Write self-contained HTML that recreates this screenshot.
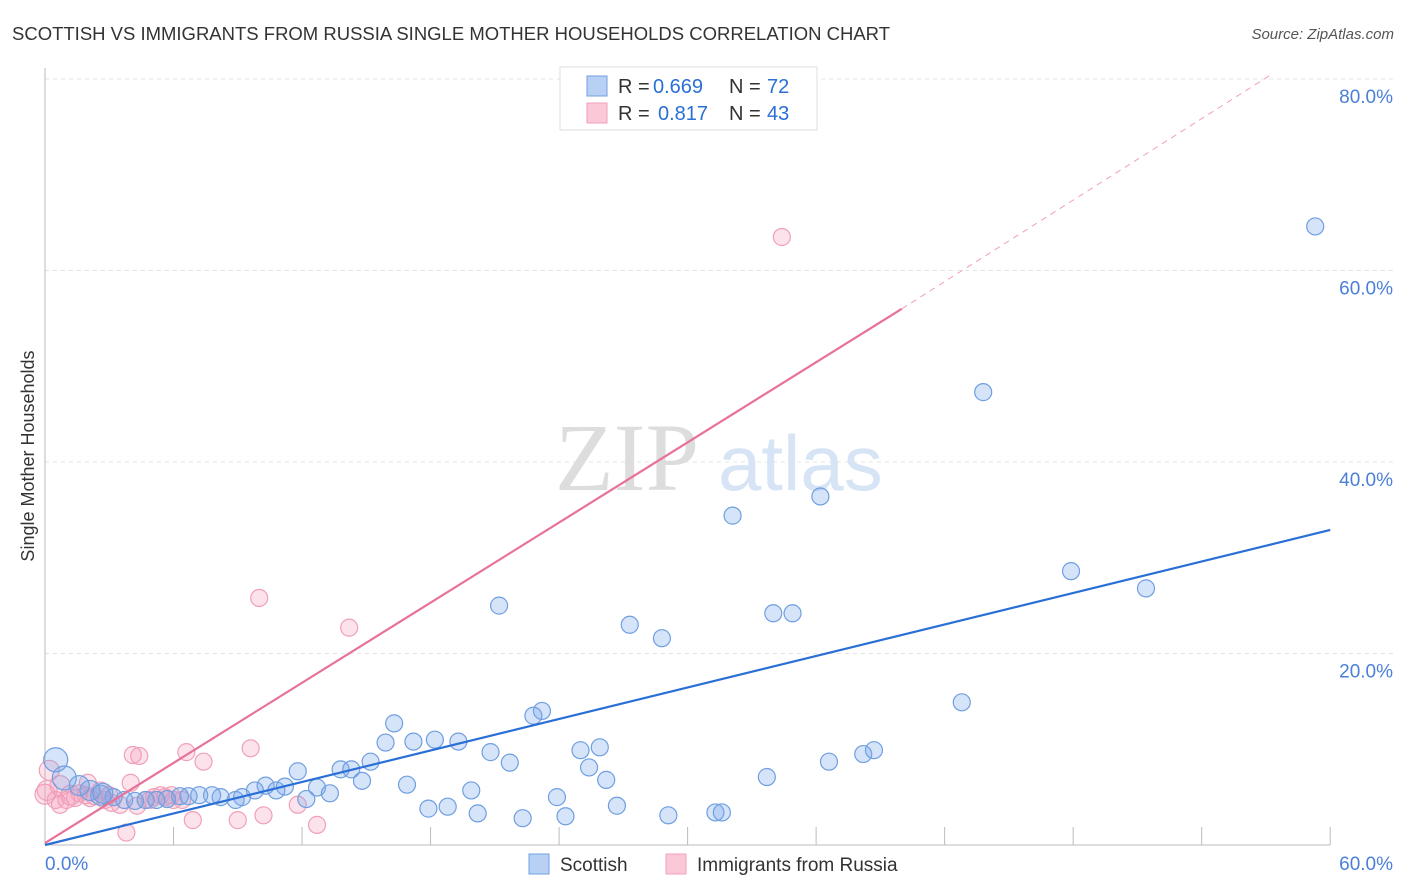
<!DOCTYPE html>
<html><head><meta charset="utf-8"><style>
body{margin:0;background:#fff;font-family:"Liberation Sans",sans-serif}
svg{display:block}
</style></head><body>
<svg id="chart" width="1406" height="892">
<text x="12" y="40" font-size="18" fill="#333" textLength="878" lengthAdjust="spacingAndGlyphs">SCOTTISH VS IMMIGRANTS FROM RUSSIA SINGLE MOTHER HOUSEHOLDS CORRELATION CHART</text>
<text x="1394" y="39" font-size="15" fill="#555" font-style="italic" text-anchor="end">Source: ZipAtlas.com</text>
<text transform="translate(34,456) rotate(-90)" font-size="18" fill="#333" text-anchor="middle">Single Mother Households</text>
<g id="grid"></g>
<text x="555" y="490" font-size="96" fill="#ddd" font-family="Liberation Serif,serif">ZIP</text>
<text x="718" y="490" font-size="78" fill="#d6e4f5">atlas</text>
<g id="marks"></g>
<g>
<rect x="560" y="67" width="257" height="63" fill="#fff" stroke="#ddd"/>
<rect x="587" y="76" width="20" height="20" fill="#b8d0f4" stroke="#6f9fe0"/>
<rect x="587" y="103" width="20" height="20" fill="#fbc8d8" stroke="#f0a0b8"/>
<text x="618" y="93" font-size="20" fill="#333">R =</text>
<text x="653" y="93" font-size="20" fill="#2a6fd6">0.669</text>
<text x="729" y="93" font-size="20" fill="#333">N =</text>
<text x="767" y="93" font-size="20" fill="#2a6fd6">72</text>
<text x="618" y="120" font-size="20" fill="#333">R =</text>
<text x="658" y="120" font-size="20" fill="#2a6fd6">0.817</text>
<text x="729" y="120" font-size="20" fill="#333">N =</text>
<text x="767" y="120" font-size="20" fill="#2a6fd6">43</text>
</g>
<g>
<rect x="529" y="854" width="20" height="20" fill="#b8d0f4" stroke="#6f9fe0"/>
<text x="560" y="871" font-size="19" fill="#333">Scottish</text>
<rect x="666" y="854" width="20" height="20" fill="#fbc8d8" stroke="#f0a0b8"/>
<text x="697" y="871" font-size="19" fill="#333">Immigrants from Russia</text>
</g>
</svg>
<script>
const yTicks=[20,40,60,80];
const yTickLabels=["20.0%","40.0%","60.0%","80.0%"];
const xTickLabels=["0.0%","60.0%"];
const blueX=[59.3,43.8,32.1,36.2,47.9,51.4,21.2,27.3,28.8,34.0,34.9,42.8,23.2,22.8,16.3,15.9,17.2,18.2,19.3,20.8,21.7,25.0,25.9,25.4,26.2,33.7,36.6,38.2,38.7,15.2,13.8,14.3,14.8,11.8,12.7,13.3,12.2,11.2,10.3,9.8,10.8,9.2,8.9,8.2,7.8,7.2,6.7,6.3,5.7,5.2,4.7,4.2,3.7,3.2,2.6,2.1,1.6,0.9,0.5,16.9,19.9,23.9,26.7,17.9,18.8,20.2,22.3,24.3,29.1,31.3,31.6,2.7];
const blueY=[64.6,47.3,34.4,36.4,28.6,26.8,25.0,23.0,21.6,24.2,24.2,14.9,14.0,13.5,12.7,10.7,10.8,11.0,10.8,9.7,8.6,9.9,10.2,8.1,6.8,7.1,8.7,9.5,9.9,8.7,7.9,7.9,6.7,7.7,6.0,5.4,4.8,6.1,6.2,5.7,5.7,5.0,4.7,5.0,5.2,5.2,5.1,5.1,4.8,4.7,4.7,4.6,4.7,5.0,5.2,5.7,6.2,7.0,8.9,6.3,5.7,5.0,4.1,3.8,4.0,3.3,2.8,3.0,3.1,3.4,3.4,5.4];
const pinkX=[34.4,10.0,14.2,6.6,4.4,4.1,9.6,7.4,4.0,2.0,0.7,0.2,0.1,0.5,1.0,1.4,1.6,2.3,2.8,3.1,3.5,4.3,4.9,5.4,5.9,6.4,6.9,9.0,10.2,11.8,12.7,3.8,0.0,2.6,1.9,1.2,3.0,4.7,5.1,5.6,6.0,0.7,2.1];
const pinkY=[63.5,25.8,22.7,9.7,9.3,9.4,10.1,8.7,6.5,6.5,6.2,7.8,5.7,4.7,4.7,4.9,5.4,5.1,4.7,4.4,4.2,4.1,4.7,5.2,5.2,4.7,2.6,2.6,3.1,4.2,2.1,1.3,5.3,5.7,5.2,5.2,5.2,4.7,5.0,5.0,4.7,4.2,4.9];
const blueLine=[0,0,60,32.9];
const pinkLine=[0,0.2,40,56];
const pinkDash=[40,56,57.2,80.4];
const X=v=>45+v*21.42, Y=v=>845-v*9.575;
const NS="http://www.w3.org/2000/svg";
function mk(t,a,p){const e=document.createElementNS(NS,t);for(const k in a)e.setAttribute(k,a[k]);p.appendChild(e);return e;}
const g=document.getElementById('grid'), m=document.getElementById('marks');
yTicks.forEach((t,i)=>{
 const l=mk('line',{x1:45,x2:1394,y1:Y(t),y2:Y(t),stroke:'#e4e4e4','stroke-dasharray':'4,4'},g);
 
 
 const tx=mk('text',{x:1393,y:Y(t)+24,'font-size':19,fill:'#4a80d8','text-anchor':'end'},g);tx.textContent=yTickLabels[i];
 
 
});
const ax=mk('line',{x1:45,x2:45,y1:68,y2:845,stroke:'#bbb'},g);


const bx=mk('line',{x1:45,x2:1330,y1:845,y2:845,stroke:'#bbb'},g);


for(let i=0;i<=10;i++){const t=mk('line',{x1:X(i*6),x2:X(i*6),y1:827,y2:845,stroke:'#bbb'},g);
 
 }
const xl0=mk('text',{x:45,y:870,'font-size':19,fill:'#4a80d8'},g);xl0.textContent=xTickLabels[0];


const xl1=mk('text',{x:1393,y:870,'font-size':19,fill:'#4a80d8','text-anchor':'end'},g);xl1.textContent=xTickLabels[1];


pinkX.forEach((x,i)=>{const r=(x<1.5&&pinkY[i]>5)?10:8.5;
 const c=mk('circle',{cx:X(x),cy:Y(pinkY[i]),r:r,fill:'rgba(246,160,190,0.3)',stroke:'#f0a0b8','stroke-width':1.2},m);
 
 });
blueX.forEach((x,i)=>{const r=x<1?12:(x<3?10:8.5);
 const c=mk('circle',{cx:X(x),cy:Y(blueY[i]),r:r,fill:'rgba(120,165,235,0.3)',stroke:'#6f9fe0','stroke-width':1.2},m);
 
 });
const bl=mk('line',{x1:X(blueLine[0]),y1:Y(blueLine[1]),x2:X(blueLine[2]),y2:Y(blueLine[3]),stroke:'#2a6fd6','stroke-width':2.2},m);


const pl=mk('line',{x1:X(pinkLine[0]),y1:Y(pinkLine[1]),x2:X(pinkLine[2]),y2:Y(pinkLine[3]),stroke:'#e8719a','stroke-width':2.2},m);


const pd=mk('line',{x1:X(pinkDash[0]),y1:Y(pinkDash[1]),x2:X(pinkDash[2]),y2:Y(pinkDash[3]),stroke:'#f0a0b8','stroke-width':1,'stroke-dasharray':'6,5'},m);


</script>
</body></html>
